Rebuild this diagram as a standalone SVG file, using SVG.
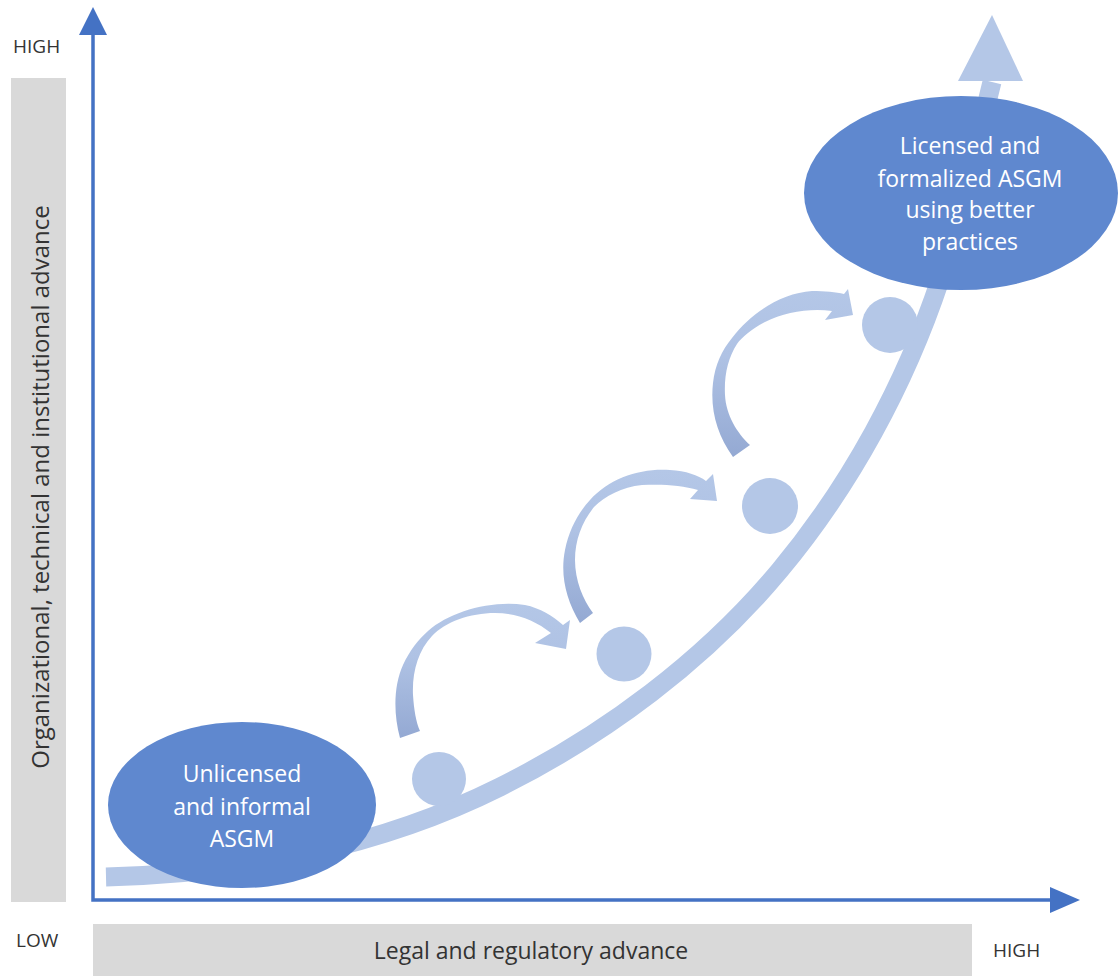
<svg xmlns="http://www.w3.org/2000/svg" width="1120" height="976" viewBox="0 0 1120 976">
<style>
.bar{fill:#D9D9D9}
.axis{stroke:#4472C4;stroke-width:3.5;fill:none}
.axhead{fill:#4472C4}
.lbl{font-family:"Open Sans","Noto Sans",sans-serif;fill:#333333}
.node{fill:#5F88CF}
.ntxt{font-family:"Open Sans","Noto Sans",sans-serif;font-size:23px;fill:#FFFFFF;text-anchor:middle}
.band{stroke:#B4C7E7;stroke-width:19;fill:none}
.light{fill:#B4C7E7}
.step{fill:#B4C7E7}
.jump{fill:url(#jg)}
</style>
<defs>
<linearGradient id="jg" x1="0" y1="0" x2="0" y2="1">
<stop offset="0" stop-color="#B4C7E7"/>
<stop offset="0.4" stop-color="#AFC2E4"/>
<stop offset="1" stop-color="#94A9D3"/>
</linearGradient>
</defs>

<g id="axis-bars">
<rect class="bar" x="11" y="78" width="55" height="824"/>
<rect class="bar" x="93" y="924" width="879" height="52"/>
</g>

<g id="connectors">
<path class="band" d="M106,877 C241,874 379.3,847.3 500,787 C605.5,734.3 704.5,660.6 780,570 C850.4,485.5 905.2,384.4 940,280 C961.5,215.5 975.5,148 992,82"/>
<polygon class="light" points="958,81 992,15 1023,81"/>
<path class="jump" d="M400,738 C393,712 394,685 403,665 C410,650 418,640 428,631 C450,612 490,600 525,605 C540,608 553,616 563,625 L570,620 L566,649 L535,643 L551,633 C535,620 515,613 495,613 C470,613 445,622 432,636 C418,651 412,672 413,695 C414,710 416,722 420,731 Z"/>
<path class="jump" d="M580,623 C566,600 560,575 565,550 C569,530 578,513 590,500 C610,478 640,468 670,470 C686,471 698,475 706,481 L713,474 L717,501 L690,499 L698,490 C682,485 662,484 642,485 C622,487 605,496 594,507 C582,522 575,540 575,560 C575,580 583,600 593,613 Z"/>
<path class="jump" d="M733,457 C717,435 710,410 713,383 C715,365 722,350 732,338 C752,312 782,293 812,291 C825,291 836,292 844,294 L848,289 L853,315 L825,320 L832,311 C810,308 785,312 765,322 C752,329 742,337 737,344 C728,358 724,375 725,395 C726,415 737,433 750,445 Z"/>
<path class="axis" d="M93,33 L93,900 L1052,900"/>
<polygon class="axhead" points="79,35 93,7 107,35"/>
<polygon class="axhead" points="1050,887 1080,900 1050,913"/>
</g>

<g id="steps">
<circle id="step1" class="step" cx="439" cy="779" r="27"/>
<circle id="step2" class="step" cx="624" cy="654" r="27.5"/>
<circle id="step3" class="step" cx="770" cy="506" r="28"/>
<circle id="step4" class="step" cx="890" cy="325" r="28"/>
</g>

<g id="node-unlicensed">
<ellipse class="node" cx="242" cy="805" rx="134" ry="83"/>
<text class="ntxt" x="242" y="782">Unlicensed</text>
<text class="ntxt" x="242" y="815">and informal</text>
<text class="ntxt" x="242" y="847">ASGM</text>
</g>

<g id="node-licensed">
<ellipse class="node" cx="961" cy="193" rx="157" ry="97"/>
<text class="ntxt" x="970" y="154">Licensed and</text>
<text class="ntxt" x="970" y="187">formalized ASGM</text>
<text class="ntxt" x="970" y="218">using better</text>
<text class="ntxt" x="970" y="250">practices</text>
</g>

<g id="labels">
<text class="lbl" x="13" y="53" font-size="19">HIGH</text>
<text class="lbl" x="16" y="947" font-size="19">LOW</text>
<text class="lbl" x="993" y="957" font-size="19">HIGH</text>
<text class="lbl" x="531" y="959" font-size="23" text-anchor="middle">Legal and regulatory advance</text>
<text class="lbl" transform="translate(49,487) rotate(-90)" font-size="24" text-anchor="middle">Organizational, technical and institutional advance</text>
</g>
</svg>
